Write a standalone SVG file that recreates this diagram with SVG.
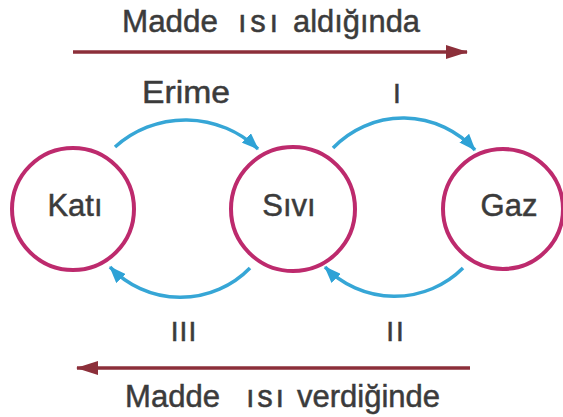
<svg xmlns="http://www.w3.org/2000/svg" width="563" height="417" viewBox="0 0 563 417">
  <style>
    .lbl { font-family: "Liberation Sans", Arial, sans-serif; font-size: 31px; fill: #3b3b3b; stroke: #3b3b3b; stroke-width: 0.5; }
    .num { font-size: 28px; }
    .node circle { fill: none; stroke: #bd2a6d; stroke-width: 4; }
    .flow { fill: none; stroke: #36a6d6; stroke-width: 3.5; marker-end: url(#blueHead); }
    .heat { fill: none; stroke: #8c2f3a; stroke-width: 3.5; marker-end: url(#redHead); }
  </style>
  <defs>
    <marker id="blueHead" markerUnits="userSpaceOnUse" viewBox="0 0 17 13" refX="16" refY="6.5" markerWidth="17" markerHeight="13" orient="auto">
      <path d="M0,0 L17,6.5 L0,13 z" fill="#2ea2d6"/>
    </marker>
    <marker id="redHead" markerUnits="userSpaceOnUse" viewBox="0 0 22 14" refX="21" refY="7" markerWidth="22" markerHeight="14" orient="auto">
      <path d="M0,0 L22,7 L0,14 z" fill="#8c2f3a"/>
    </marker>
  </defs>

  <rect width="563" height="417" fill="#ffffff"/>

  <!-- heat direction captions -->
  <text class="lbl">
    <tspan x="122" y="32" textLength="96" lengthAdjust="spacingAndGlyphs">Madde</tspan>
    <tspan x="238" y="32" textLength="40" lengthAdjust="spacing">ısı</tspan>
    <tspan x="293" y="32" textLength="127" lengthAdjust="spacingAndGlyphs">aldığında</tspan>
  </text>
  <text class="lbl">
    <tspan x="125" y="407" textLength="95" lengthAdjust="spacingAndGlyphs">Madde</tspan>
    <tspan x="246" y="407" textLength="38" lengthAdjust="spacing">ısı</tspan>
    <tspan x="297" y="407" textLength="143" lengthAdjust="spacingAndGlyphs">verdiğinde</tspan>
  </text>

  <!-- transition labels -->
  <text class="lbl" x="142" y="103" textLength="88" lengthAdjust="spacingAndGlyphs">Erime</text>
  <text class="lbl num" x="397" y="103" text-anchor="middle">I</text>
  <text class="lbl num" x="184" y="341" text-anchor="middle" letter-spacing="1">III</text>
  <text class="lbl num" x="396" y="341" text-anchor="middle" letter-spacing="2">II</text>

  <!-- states -->
  <g id="kati" class="node">
    <circle cx="73" cy="209" r="61"/>
    <text class="lbl" x="75" y="216" text-anchor="middle">Katı</text>
  </g>
  <g id="sivi" class="node">
    <circle cx="293" cy="209" r="62"/>
    <text class="lbl" x="289" y="216" text-anchor="middle">Sıvı</text>
  </g>
  <g id="gaz" class="node">
    <circle cx="503" cy="209" r="60"/>
    <text class="lbl" x="509" y="216" text-anchor="middle">Gaz</text>
  </g>

  <!-- connectors -->
  <g id="connectors">
    <path class="heat" d="M73,52 L467,52"/>
    <path class="heat" d="M470,368 L77,368"/>
    <path class="flow" d="M115,147 A105,105 0 0 1 258,149"/>
    <path class="flow" d="M333,148 A97,97 0 0 1 475,150"/>
    <path class="flow" d="M250,268 A97,97 0 0 1 110,267"/>
    <path class="flow" d="M463,268 A97,97 0 0 1 325,267"/>
  </g>
</svg>
